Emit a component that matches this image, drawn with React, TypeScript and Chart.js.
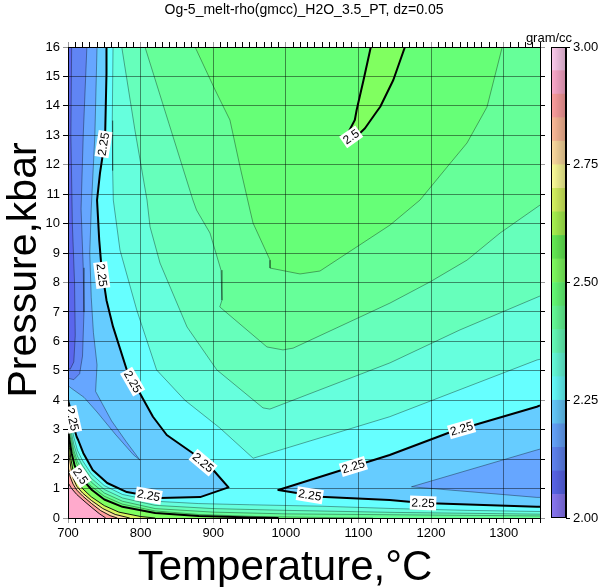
import React, { useEffect, useRef } from 'react';
import { Chart, registerables } from 'chart.js';

Chart.register(...registerables);
Chart.defaults.font.family = '"Liberation Sans", Arial, Helvetica, sans-serif';

// ---------- text ----------
const TITLE = 'Og-5_melt-rho(gmcc)_H2O_3.5_PT, dz=0.05';
const X_LABEL = 'Temperature,°C';
const Y_LABEL = 'Pressure,kbar';
const UNIT = 'gram/cc';

// ---------- axes ----------
const T_MIN = 700;
const T_MAX = 1350;
const P_MIN = 0;
const P_MAX = 16;

// ---------- colour scale (band lower bounds, dz = 0.05) ----------
const CB_LEVELS = [2.0, 2.05, 2.1, 2.15, 2.2, 2.25, 2.3, 2.35, 2.4, 2.45, 2.5, 2.55, 2.6, 2.65, 2.7, 2.75, 2.8, 2.85, 2.9, 2.95];
const CB_TICKS = [2.0, 2.25, 2.5, 2.75, 3.0];

// ---------- contour lines [T °C, P kbar] ----------
type Pt = [number, number];

// thick 2.25, left low-density region (left edge -> top edge)
const L225_LEFT: Pt[] = [[700, 4.0], [703, 3.74], [707, 3.16], [712, 2.75], [714, 2.65], [721, 2.21], [734, 1.63], [754, 1.19], [781, 0.88], [827, 0.68], [882, 0.71], [921, 1.04], [900, 1.63], [872, 2.2], [836, 2.82], [817, 3.44], [799, 4.24], [781, 5.03], [762, 6.5], [753, 7.4], [746, 8.54], [743, 9.44], [740, 10.8], [744, 11.71], [751, 12.84], [753, 15.1], [753, 16]];
const L220_LEFT: Pt[] = [[740, 16], [737, 13], [732, 10.5], [730, 9], [732, 7.5], [735, 6.3], [740, 5.2], [738, 4.3], [760, 3.3], [780, 2.6], [799, 1.97], [790, 2.15], [765, 2.85], [740, 3.6], [722, 4.1], [705, 4.4], [700, 4.5]];
const L215_LEFT: Pt[] = [[726, 16], [721, 13], [718, 10.5], [721, 8.5], [722, 7], [720, 5.5], [716, 4.9], [708, 4.7], [700, 4.75]];
const L210_LEFT: Pt[] = [[705, 16], [704, 13], [706, 10], [709, 8], [710, 6.2], [708, 5.3], [703, 5.05], [700, 5.1]];

// upper (rising) contours, top edge -> right edge
const U230: Pt[] = [[762, 16], [761, 13.5], [761.5, 11.8], [762.4, 10.8], [771.6, 9.1], [794.6, 7.07], [822, 5.03], [861, 4.0], [909, 3.06], [955, 2.03], [1143, 3.44], [1346, 5.37], [1350, 5.39]];
const U235: Pt[] = [[774, 16], [792, 13.2], [808.8, 10.8], [813, 9.89], [826.7, 8.66], [863.9, 6.49], [905, 5.03], [968.5, 3.74], [978, 3.7], [1143.4, 5.27], [1239.8, 6.39], [1350, 7.54]];
const U240: Pt[] = [[806, 16], [839, 13.4], [872, 10.8], [877, 10.46], [895.5, 9.68], [910.7, 8.42], [912, 7.4], [909, 7.17], [974, 5.81], [996, 5.71], [1010, 5.77], [1143.4, 7.3], [1198.5, 8.02], [1249.5, 8.76], [1295, 9.68], [1350, 10.63]];
const U245: Pt[] = [[875, 16], [902.6, 14.54], [923, 13.52], [937, 11.92], [950.6, 10.46], [954.8, 10.02], [978.2, 8.76], [978.2, 8.49], [1019.5, 8.29], [1047, 8.39], [1143.4, 9.95], [1184.7, 10.8], [1222, 11.92], [1249.5, 12.74], [1277, 13.96], [1298, 16]];
const U250: Pt[] = [[1117, 16], [1107, 14.88], [1097.5, 13.86], [1095, 13.52], [1086, 13.1], [1097, 12.95], [1109, 13.24], [1125, 13.8], [1130, 13.97], [1148, 14.88], [1164, 16]];

// thick 2.25, lower-right closed trough (right edge -> right edge)
const L225_RIGHT: Pt[] = [[1350, 3.82], [1345.5, 3.78], [1228, 2.93], [1143, 2.14], [989.6, 0.95], [1047, 0.72], [1143, 0.61], [1189, 0.51], [1345.5, 0.38], [1350, 0.38]];
const L220_RIGHT: Pt[] = [[1350, 2.34], [1345.5, 2.31], [1173, 1.06], [1345.5, 0.7], [1350, 0.7]];

// bottom (high-pressure-side) contours, left edge -> right/bottom edge
const B230: Pt[] = [[700, 3.75], [704, 3.25], [708, 2.75], [713, 2.3], [720, 1.95], [732, 1.5], [750, 1.1], [775, 0.8], [820, 0.57], [880, 0.49], [950, 0.45], [1050, 0.4], [1150, 0.32], [1250, 0.26], [1350, 0.22]];
const B235: Pt[] = [[700, 3.55], [704, 3.0], [708, 2.5], [713, 2.1], [720, 1.78], [732, 1.35], [750, 0.97], [775, 0.68], [820, 0.43], [900, 0.32], [1000, 0.26], [1150, 0.19], [1350, 0.13]];
const B240: Pt[] = [[700, 3.4], [704, 2.8], [708, 2.3], [713, 1.92], [720, 1.62], [732, 1.22], [750, 0.85], [775, 0.57], [820, 0.32], [900, 0.2], [1000, 0.14], [1350, 0.07]];
const B245: Pt[] = [[700, 3.22], [703, 2.75], [707, 2.25], [712, 1.85], [719, 1.5], [731, 1.1], [750, 0.74], [775, 0.47], [820, 0.24], [880, 0.12], [960, 0.05], [1060, 0.015], [1120, 0]];
const H250: Pt[] = [[700, 3.05], [702, 2.65], [705, 2.2], [709, 1.8], [714, 1.5], [722, 1.25], [733, 0.95], [750, 0.63], [775, 0.38], [820, 0.17], [880, 0.07], [950, 0.02], [990, 0]];
const H260: Pt[] = [[700, 2.85], [702, 2.4], [704, 2.0], [707, 1.6], [712, 1.3], [720, 1.0], [732, 0.72], [750, 0.42], [770, 0.2], [800, 0.05], [820, 0]];
const H270: Pt[] = [[700, 2.5], [702, 2.05], [704, 1.7], [707, 1.35], [712, 1.08], [720, 0.85], [732, 0.6], [748, 0.32], [765, 0.12], [785, 0]];
const H280: Pt[] = [[700, 1.75], [703, 1.4], [707, 1.15], [712, 0.95], [720, 0.75], [732, 0.5], [745, 0.25], [758, 0.08], [768, 0]];
const H290: Pt[] = [[700, 1.2], [705, 1.0], [712, 0.8], [722, 0.58], [733, 0.35], [743, 0.15], [752, 0]];

// contour labels
const LABELS = [
  { t: 749, p: 12.7, text: '2.25', angle: -81 },
  { t: 746.5, p: 8.25, text: '2.25', angle: 83 },
  { t: 789, p: 4.63, text: '2.25', angle: 60 },
  { t: 886, p: 1.88, text: '2.25', angle: 40 },
  { t: 811, p: 0.76, text: '2.25', angle: 10 },
  { t: 706, p: 3.35, text: '2.25', angle: 77 },
  { t: 1093, p: 1.75, text: '2.25', angle: -17 },
  { t: 1033, p: 0.775, text: '2.25', angle: 9 },
  { t: 1242, p: 3.03, text: '2.25', angle: -16 },
  { t: 1189, p: 0.51, text: '2.25', angle: 2 },
  { t: 1090, p: 12.95, text: '2.5', angle: -35 },
  { t: 717, p: 1.42, text: '2.5', angle: 55 },
];

// ---------- styles ----------
const BAND_COLORS = ['#8a78f5', '#5a66ec', '#6085f4', '#66a6ff', '#66ccff', '#66ffff', '#66ffdd', '#66ffbb', '#66ff99', '#66ff77', '#80ff60', '#66ee55', '#aaf550', '#d8f560', '#ffff99', '#ffdca0', '#ffbb99', '#ff9f9f', '#ffaacc', '#ffccee'];
const colorOf = (lo: number) => BAND_COLORS[Math.round((lo - 2) / 0.05)];
const GRID = 'rgba(0,0,0,0.45)';
const THIN = 'rgba(0,0,0,0.45)';
const FONT = '"Liberation Sans", Arial, Helvetica, sans-serif';

function darken(hex: string, f: number) {
  const n = parseInt(hex.slice(1), 16);
  const r = Math.round(((n >> 16) & 255) * f);
  const g = Math.round(((n >> 8) & 255) * f);
  const b = Math.round((n & 255) * f);
  return `rgb(${r},${g},${b})`;
}

const FRAME: Pt[] = [[T_MIN, P_MIN], [T_MAX, P_MIN], [T_MAX, P_MAX], [T_MIN, P_MAX]];
const TR: Pt = [T_MAX, P_MAX];
const TL: Pt = [T_MIN, P_MAX];
const BR: Pt = [T_MAX, P_MIN];
const BL: Pt = [T_MIN, P_MIN];

// painter order: first drawn first
const FILLS: { pts: Pt[]; lo: number }[] = [
  { pts: FRAME, lo: 2.25 },
  { pts: [...U230, TR], lo: 2.3 },
  { pts: [...U235, TR], lo: 2.35 },
  { pts: [...U240, TR], lo: 2.4 },
  { pts: U245, lo: 2.45 },
  { pts: U250, lo: 2.5 },
  { pts: [...B230, BR, BL], lo: 2.3 },
  { pts: [...B235, BR, BL], lo: 2.35 },
  { pts: [...B240, BR, BL], lo: 2.4 },
  { pts: [...B245, BL], lo: 2.45 },
  { pts: [...H250, BL], lo: 2.5 },
  { pts: [...H260, BL], lo: 2.65 },
  { pts: [...H270, BL], lo: 2.75 },
  { pts: [...H280, BL], lo: 2.85 },
  { pts: [...H290, BL], lo: 2.9 },
  { pts: [...L225_LEFT, TL], lo: 2.2 },
  { pts: L225_RIGHT, lo: 2.2 },
  { pts: [...L220_LEFT, TL], lo: 2.15 },
  { pts: L220_RIGHT, lo: 2.15 },
  { pts: [...L215_LEFT, TL], lo: 2.1 },
  { pts: [...L210_LEFT, TL], lo: 2.05 },
];

const LINES: { pts: Pt[]; kind: 'thin' | 'dark' | 'thick' }[] = [
  { pts: U230, kind: 'thin' }, { pts: U235, kind: 'thin' }, { pts: U240, kind: 'thin' }, { pts: U245, kind: 'thin' },
  { pts: B230, kind: 'thin' }, { pts: B235, kind: 'thin' }, { pts: B240, kind: 'thin' }, { pts: B245, kind: 'thin' },
  { pts: L220_LEFT, kind: 'thin' }, { pts: L215_LEFT, kind: 'thin' }, { pts: L210_LEFT, kind: 'thin' }, { pts: L220_RIGHT, kind: 'thin' },
  { pts: H260, kind: 'dark' }, { pts: H270, kind: 'dark' }, { pts: H280, kind: 'dark' }, { pts: H290, kind: 'dark' },
  { pts: L225_LEFT, kind: 'thick' }, { pts: L225_RIGHT, kind: 'thick' }, { pts: U250, kind: 'thick' }, { pts: H250, kind: 'thick' },
];

const toXY = (pts: Pt[]) => pts.map(([x, y]) => ({ x, y }));

const contourLabels = {
  id: 'contourLabels',
  afterDraw(chart: any) {
    const { ctx, chartArea } = chart;
    const xs = chart.scales.x;
    const ys = chart.scales.y;
    ctx.save();
    ctx.beginPath();
    ctx.rect(chartArea.left, chartArea.top, chartArea.right - chartArea.left, chartArea.bottom - chartArea.top);
    ctx.clip();
    ctx.font = `12px ${FONT}`;
    ctx.textAlign = 'center';
    ctx.textBaseline = 'middle';
    for (const lb of LABELS) {
      const px = xs.getPixelForValue(lb.t);
      const py = ys.getPixelForValue(lb.p);
      const w = ctx.measureText(lb.text).width + 3;
      ctx.save();
      ctx.translate(px, py);
      ctx.rotate((lb.angle * Math.PI) / 180);
      ctx.fillStyle = '#fff';
      ctx.fillRect(-w / 2, -7, w, 14);
      ctx.fillStyle = '#000';
      ctx.fillText(lb.text, 0, 0.5);
      ctx.restore();
    }
    ctx.restore();
  },
};

// axis titles (placed like the reference, slightly off the axis centres)
const axisTitles = {
  id: 'axisTitles',
  afterDraw(chart: any) {
    const { ctx, chartArea } = chart;
    ctx.save();
    ctx.fillStyle = '#000';
    ctx.textAlign = 'center';
    ctx.textBaseline = 'alphabetic';
    ctx.font = `42px ${FONT}`;
    ctx.fillText(X_LABEL, chartArea.left + 217, chartArea.bottom + 62);
    ctx.translate(chartArea.left - 32, chartArea.top + 223);
    ctx.rotate(-Math.PI / 2);
    ctx.font = `41px ${FONT}`;
    ctx.fillText(Y_LABEL, 0, 0);
    ctx.restore();
  },
};

const cbDecor = {
  id: 'cbDecor',
  afterDraw(chart: any) {
    const { ctx, chartArea } = chart;
    ctx.save();
    ctx.strokeStyle = '#000';
    ctx.lineWidth = 1;
    ctx.strokeRect(chartArea.left + 0.5, chartArea.top + 0.5, chartArea.right - chartArea.left - 1, chartArea.bottom - chartArea.top - 1);
    ctx.font = `13px ${FONT}`;
    ctx.fillStyle = '#000';
    ctx.textAlign = 'center';
    ctx.textBaseline = 'alphabetic';
    ctx.fillText(UNIT, chartArea.left - 2, chartArea.top - 5);
    ctx.restore();
  },
};

export default function App() {
  const mainRef = useRef<HTMLCanvasElement>(null);
  const cbRef = useRef<HTMLCanvasElement>(null);

  useEffect(() => {
    const fillSets = FILLS.map((f, i) => ({
      type: 'line' as const,
      data: toXY(f.pts),
      xAxisID: 'x',
      yAxisID: 'y',
      fill: 'shape' as const,
      backgroundColor: colorOf(f.lo),
      borderColor: 'rgba(0,0,0,0)',
      borderWidth: 0,
      pointRadius: 0,
      tension: 0,
      order: 1000 - i,
    }));
    const lineSets = LINES.map((l, j) => ({
      type: 'line' as const,
      data: toXY(l.pts),
      xAxisID: 'x',
      yAxisID: 'y',
      fill: false,
      borderColor: l.kind === 'thin' ? THIN : '#000',
      borderWidth: l.kind === 'thick' ? 2 : l.kind === 'dark' ? 0.9 : 0.8,
      borderJoinStyle: 'round' as const,
      pointRadius: 0,
      tension: 0,
      order: 100 - j,
    }));

    const tickX = (c: any) => (c.tick && Math.round(c.tick.value) % 100 === 0 ? '#999' : '#000');
    const tickY = (c: any) => (c.tick && Math.round(c.tick.value) % 4 === 0 ? '#999' : '#000');

    const main = new Chart(mainRef.current as HTMLCanvasElement, {
      type: 'line',
      data: { datasets: [...fillSets, ...lineSets] as any },
      options: {
        responsive: false,
        animation: false,
        events: [],
        layout: { padding: 0 },
        plugins: {
          legend: { display: false },
          tooltip: { enabled: false },
          title: {
            display: true,
            text: TITLE,
            color: '#000',
            font: { size: 14, weight: 'normal' },
            padding: { top: 2, bottom: 0 },
          },
        },
        scales: {
          x: {
            type: 'linear',
            position: 'bottom',
            min: T_MIN,
            max: T_MAX,
            afterFit: (s: any) => { s.height = 69; },
            ticks: {
              stepSize: 10,
              autoSkip: false,
              maxRotation: 0,
              color: '#000',
              font: { size: 13 },
              padding: 3,
              callback: (v: any) => (Math.round(Number(v)) % 100 === 0 ? String(v) : ''),
            },
            grid: {
              z: 1,
              lineWidth: 1,
              tickLength: 5,
              color: (c: any) => (c.tick && Math.round(c.tick.value) % 100 === 0 ? GRID : 'rgba(0,0,0,0)'),
              tickColor: tickX,
            },
            border: { z: 1, color: '#000', width: 1 },
          },
          x2: {
            type: 'linear',
            position: 'top',
            min: T_MIN,
            max: T_MAX,
            afterFit: (s: any) => { s.height = 28.2; },
            ticks: { display: false, stepSize: 10, autoSkip: false },
            grid: { z: 1, drawOnChartArea: false, tickLength: 5, tickColor: tickX },
            border: { z: 1, color: '#000', width: 1 },
          },
          y: {
            type: 'linear',
            position: 'left',
            min: P_MIN,
            max: P_MAX,
            afterFit: (s: any) => { s.width = 68; },
            ticks: { stepSize: 1, autoSkip: false, color: '#000', font: { size: 13 }, padding: 3 },
            grid: { z: 1, color: GRID, lineWidth: 1, tickLength: 5, tickColor: tickY },
            border: { z: 1, color: '#000', width: 1 },
          },
          y2: {
            type: 'linear',
            position: 'right',
            min: P_MIN,
            max: P_MAX,
            afterFit: (s: any) => { s.width = 68; },
            ticks: { display: false, stepSize: 1, autoSkip: false },
            grid: { z: 1, drawOnChartArea: false, tickLength: 5, tickColor: tickY },
            border: { z: 1, color: '#000', width: 1 },
          },
        },
      } as any,
      plugins: [contourLabels, axisTitles],
    });

    const cb = new Chart(cbRef.current as HTMLCanvasElement, {
      type: 'bar',
      data: {
        labels: [''],
        datasets: CB_LEVELS.map((lo, i) => ({
          data: [[lo, +(lo + 0.05).toFixed(2)]],
          backgroundColor: (c: any) => {
            const ca = c.chart.chartArea;
            const light = BAND_COLORS[i];
            if (!ca) return light;
            const g = c.chart.ctx.createLinearGradient(ca.left, 0, ca.right, 0);
            g.addColorStop(0, light);
            g.addColorStop(1, darken(light, 0.78));
            return g;
          },
          borderWidth: 0,
          grouped: false,
          barPercentage: 1,
          categoryPercentage: 1,
        })) as any,
      },
      options: {
        responsive: false,
        animation: false,
        events: [],
        layout: { padding: { left: 36, right: 0, top: 47, bottom: 69 } },
        plugins: { legend: { display: false }, tooltip: { enabled: false }, title: { display: false } },
        scales: {
          x: { display: false },
          y: {
            position: 'right',
            min: 2,
            max: 3,
            afterFit: (s: any) => { s.width = 42; },
            afterBuildTicks: (s: any) => { s.ticks = CB_TICKS.map((v) => ({ value: v })); },
            ticks: { color: '#000', font: { size: 13 }, padding: 3, callback: (v: any) => Number(v).toFixed(2) },
            grid: { drawOnChartArea: false, tickLength: 4, tickColor: '#000' },
            border: { color: '#000' },
          },
        },
      } as any,
      plugins: [cbDecor],
    });

    return () => {
      main.destroy();
      cb.destroy();
    };
  }, []);

  return (
    <div style={{ position: 'fixed', left: 0, top: 0, width: 608, height: 587, background: '#fff' }}>
      <canvas ref={mainRef} width={608} height={587} style={{ position: 'absolute', left: 0, top: 0 }} />
      <canvas ref={cbRef} width={93} height={587} style={{ position: 'absolute', left: 515, top: 0 }} />
    </div>
  );
}
